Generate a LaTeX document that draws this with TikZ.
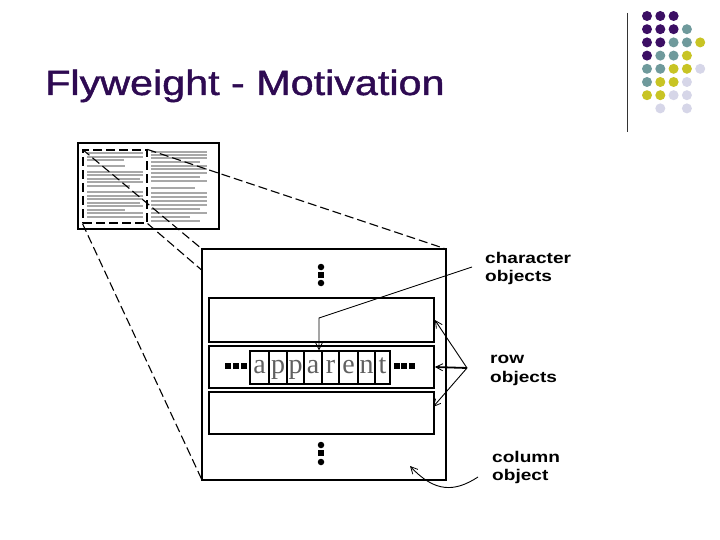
\documentclass[tikz,border=0pt]{standalone}
\usepackage{fontspec}
\setmainfont{Liberation Sans}
\newfontfamily\letterfont{Liberation Serif}
\newfontfamily\titlefont[FakeBold=1.2]{Liberation Sans}
\usetikzlibrary{arrows.meta}
\definecolor{titlepurple}{HTML}{2E0A52}
\definecolor{dotP}{HTML}{3C0F64}
\definecolor{dotT}{HTML}{6F9A9C}
\definecolor{dotY}{HTML}{C8C424}
\definecolor{dotL}{HTML}{D6D6E8}
\definecolor{thumbgray}{HTML}{A8A8A8}
\definecolor{lettergray}{HTML}{606060}
\begin{document}
\begin{tikzpicture}[x=1pt,y=-1pt,
  proj/.style={line width=1.1pt,dash pattern=on 9pt off 4pt},
  rowbox/.style={draw,line width=1.8pt,fill=white},
  charbox/.style={draw,line width=1.4pt,inner sep=0pt,minimum width=#1,minimum height=33pt,text height=16pt,text depth=5pt,text=lettergray,font=\letterfont\fontsize{28}{30}\selectfont},
  lbl/.style={anchor=base west,inner sep=0pt,font=\fontsize{15.5}{18}\selectfont\bfseries},
  ptr/.style={line width=0.9pt,-{Straight Barb[length=7pt,width=7pt,line width=0.8pt]}},
  bigdot/.style={fill=black,circle,inner sep=0pt,minimum size=6.5pt},
  sqdot/.style={fill=black,inner sep=0pt,minimum size=6pt},
  gdot/.style={circle,inner sep=0pt,minimum size=10pt,fill=#1}
]
\useasboundingbox (0,0) rectangle (720,540);
\fill[white] (0,0) rectangle (720,540);

% title
\node[anchor=base west,inner sep=0pt,text=titlepurple] (title) at (45,95)
  {\titlefont\fontsize{35}{40}\selectfont\scalebox{1.18}[1]{Flyweight - Motivation}};

% decoration: vertical rule and dot grid
\draw[line width=1pt,black!80] (627,13) -- (627,132);
\foreach \r/\cols in {0/{P,P,P},1/{P,P,P,T},2/{P,P,T,T,Y},3/{P,T,T,Y},4/{T,T,Y,Y,L},5/{T,Y,Y,L},6/{Y,Y,L,L}}{
  \foreach \c [count=\i from 0] in \cols {
    \node[gdot=dot\c] (g\r\i) at (647+13.3*\i,16+13.2*\r) {};
  }
}
\node[gdot=dotL] (g71) at (660.3,108.4) {};
\node[gdot=dotL] (g73) at (686.9,108.4) {};

% thumbnail page
\node[draw,line width=2pt,inner sep=0pt,minimum width=141pt,minimum height=86pt] (thumb) at (148.5,186) {};
\foreach \y/\xe in {153/143,157/143,160/124,166/125,172/143,175/143,179/140,182/143,186/130,192/143,196/143,199/143,203/140,206/143,210/125,213/143,217/143}
  \draw[thumbgray,line width=1.8pt] (87,\y) -- (\xe,\y);
\foreach \y/\xe in {152/207,155/207,158/207,162/200,166/207,169/207,173/207,177/200,181/207,188/195,193/207,197/207,201/207,205/207,209/200,213/207,217/190,221/200}
  \draw[thumbgray,line width=1.8pt] (151,\y) -- (\xe,\y);
\node[draw,proj,inner sep=0pt,minimum width=64pt,minimum height=73pt] (col) at (115,186.5) {};

% projection lines
\coordinate (bbNW) at (202,249);
\coordinate (bbNE) at (446,249);
\coordinate (bbSW) at (202,480);
\coordinate (bbSE) at (446,480);
\draw[proj] (col.north west) -- (bbNW);
\draw[proj] (col.north east) -- (bbNE);
\draw[proj] (col.south west) -- (bbSW);
\draw[proj] (col.south east) -- (bbSE);

% big column box
\node[draw,line width=1.3pt,fill=white,inner sep=0pt,minimum width=244pt,minimum height=231pt] (big) at (324,364.5) {};

% vertical ellipsis dots
\node[bigdot] (t1) at (321,267) {};
\node[sqdot] (t2) at (321,275) {};
\node[bigdot] (t3) at (321,283) {};
\node[bigdot] (b1) at (321,445) {};
\node[sqdot] (b2) at (321,453) {};
\node[bigdot] (b3) at (321,462) {};

% rows
\node[rowbox,inner sep=0pt,minimum width=225pt,minimum height=44pt] (row1) at (321.5,320) {};
\node[rowbox,inner sep=0pt,minimum width=225pt,minimum height=42pt] (row2) at (321.5,367) {};
\node[rowbox,inner sep=0pt,minimum width=225pt,minimum height=42pt] (row3) at (321.5,413) {};

% horizontal ellipsis
\foreach \x [count=\i] in {227.5,235.5,243.5}
  \node[sqdot] (hl\i) at (\x,366) {};
\foreach \x [count=\i] in {396.5,404,411.5}
  \node[sqdot] (hr\i) at (\x,366) {};

% character boxes
\foreach \xa/\xb/\ch [count=\i] in {250/269/a,269/287/p,287/304/p,304/322/a,322/339/r,339/358/e,358/375/n,375/390/t}
  \node[charbox=\xb-\xa] (c\i) at ({(\xa+\xb)/2},367.5) {\ch};

% labels
\node[lbl] (lch1) at (485,263) {\scalebox{1.23}[1]{character}};
\node[lbl] (lch2) at (485,281) {\scalebox{1.23}[1]{objects}};
\node[lbl] (lrw1) at (490,363) {\scalebox{1.23}[1]{row}};
\node[lbl] (lrw2) at (490,382) {\scalebox{1.23}[1]{objects}};
\node[lbl] (lco1) at (492,462) {\scalebox{1.23}[1]{column}};
\node[lbl] (lco2) at (492,480) {\scalebox{1.23}[1]{object}};

% character objects pointer
\coordinate (chsrc) at (472,267);
\coordinate (chbend) at (319,318);
\draw[ptr] (chsrc) -- (chbend) -- (chbend |- c4.north);

% row objects pointers
\coordinate (rwsrc) at (467,368);
\coordinate (rw3tip) at (433,407);
\draw[ptr] (rwsrc) -- (row1.east);
\draw[ptr,line width=1.8pt] (rwsrc) -- (row2.east);
\draw[ptr] (rwsrc) -- (rw3tip);

% column object pointer
\coordinate (cosrc) at (478,477);
\coordinate (cotip) at (410,466);
\draw[ptr] (cosrc) .. controls (455,492) and (435,493) .. (cotip);
\end{tikzpicture}
\end{document}
